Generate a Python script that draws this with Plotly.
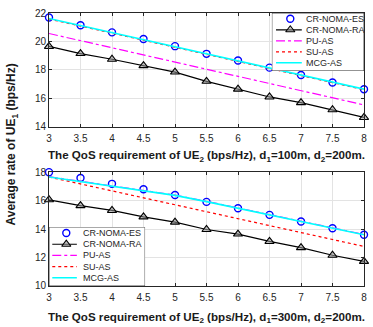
import plotly.graph_objects as go

# ---------------- data ----------------
qos = [3, 3.5, 4, 4.5, 5, 5.5, 6, 6.5, 7, 7.5, 8]
tick_vals = [3, 3.5, 4, 4.5, 5, 5.5, 6, 6.5, 7, 7.5, 8]
tick_text = ["3", "3.5", "4", "4.5", "5", "5.5", "6", "6.5", "7", "7.5", "8"]

# top panel: d1=100m, d2=200m
top_es = [21.68, 21.14, 20.64, 20.17, 19.67, 19.13, 18.66, 18.16, 17.64, 17.12, 16.64]
top_ra = [19.65, 19.15, 18.75, 18.30, 17.85, 17.20, 16.65, 16.10, 15.70, 15.20, 14.66]
top_pu = [20.56, 20.06, 19.56, 19.05, 18.55, 18.05, 17.55, 17.05, 16.55, 16.05, 15.54]
top_su = [21.58, 21.08, 20.58, 20.09, 19.60, 19.10, 18.61, 18.11, 17.61, 17.11, 16.61]
top_mcg = [21.62, 21.12, 20.62, 20.13, 19.64, 19.14, 18.65, 18.15, 17.65, 17.15, 16.65]

# bottom panel: d1=300m, d2=200m
bot_es = [18.00, 17.59, 17.18, 16.80, 16.39, 15.91, 15.46, 15.00, 14.53, 14.06, 13.60]
bot_ra = [16.06, 15.65, 15.31, 14.86, 14.49, 13.97, 13.65, 13.13, 12.70, 12.16, 11.73]
bot_pu = [17.68, 17.37, 17.05, 16.74, 16.39, 15.95, 15.49, 15.02, 14.55, 14.09, 13.62]
bot_su = [17.66, 17.17, 16.68, 16.20, 15.72, 15.23, 14.74, 14.25, 13.76, 13.27, 12.78]
bot_mcg = [17.66, 17.35, 17.03, 16.72, 16.37, 15.93, 15.47, 15.00, 14.53, 14.07, 13.60]

names = ["CR-NOMA-ES", "CR-NOMA-RA", "PU-AS", "SU-AS", "MCG-AS"]
x_title_top = "The QoS requirement of UE<sub>2</sub> (bps/Hz), d<sub>1</sub>=100m, d<sub>2</sub>=200m."
x_title_bot = "The QoS requirement of UE<sub>2</sub> (bps/Hz), d<sub>1</sub>=300m, d<sub>2</sub>=200m."
y_title = "Average rate of UE<sub>1</sub> (bps/Hz)"

# ---------------- styles ----------------
FONT = "Liberation Sans, Arial, sans-serif"
styles = [
    dict(mode="markers", marker=dict(symbol="circle-open", size=7, color="#0000ff",
                                      line=dict(width=1.4, color="#0000ff"))),
    dict(mode="lines+markers", line=dict(color="black", width=1.2),
         marker=dict(symbol="triangle-up", size=8, color="rgba(150,150,150,0.55)",
                     line=dict(width=1.1, color="black"))),
    dict(mode="lines", line=dict(color="#ff00ff", width=1.2, dash="dashdot")),
    dict(mode="lines", line=dict(color="#ff0000", width=1.2, dash="dot")),
    dict(mode="lines", line=dict(color="#00ffff", width=1.6)),
]

fig = go.Figure()

panels = [
    ("x", "y", [top_es, top_ra, top_pu, top_su, top_mcg]),
    ("x2", "y2", [bot_es, bot_ra, bot_pu, bot_su, bot_mcg]),
]
for xa, ya, series in panels:
    for name, vals, st in zip(names, series, styles):
        fig.add_trace(go.Scatter(x=qos, y=vals, name=name, xaxis=xa, yaxis=ya,
                                 showlegend=False, cliponaxis=False, **st))

# ---------------- custom compact legends (aux axes) ----------------
legend_rows = [0.9, 0.71, 0.52, 0.33, 0.14]
legend_specs = [
    # xaxis, yaxis, line start, line end, marker x, text x
    ("x3", "y3", 0.045, 0.325, 0.2, 0.345),
    ("x4", "y4", 0.034, 0.29, 0.18, 0.337),
]
for xa, ya, lx0, lx1, mx, tx in legend_specs:
    fig.add_shape(type="rect", xref=xa, yref=ya, x0=0, x1=1, y0=0, y1=1,
                  line=dict(color="#262626", width=0.8), fillcolor="white", layer="below")
    for name, ry, st in zip(names, legend_rows, styles):
        if "lines" in st["mode"]:
            fig.add_trace(go.Scatter(x=[lx0, lx1], y=[ry, ry], mode="lines", line=st["line"],
                                     xaxis=xa, yaxis=ya, showlegend=False, hoverinfo="skip"))
        if "markers" in st["mode"]:
            fig.add_trace(go.Scatter(x=[mx], y=[ry], mode="markers", marker=st["marker"],
                                     xaxis=xa, yaxis=ya, showlegend=False, hoverinfo="skip"))
        fig.add_annotation(xref=xa, yref=ya, x=tx, y=ry, text=name, showarrow=False,
                           xanchor="left", yanchor="middle",
                           font=dict(family=FONT, size=9, color="#262626"))

# ---------------- axes ----------------
common_x = dict(range=[3, 8], tickmode="array", tickvals=tick_vals, ticktext=tick_text,
                showgrid=True, gridcolor="#e3e3e3", gridwidth=1,
                showline=True, linecolor="#262626", linewidth=1, mirror="ticks",
                ticks="inside", ticklen=3, tickcolor="#262626", ticklabelstandoff=2,
                tickfont=dict(family=FONT, size=10, color="#262626"),
                zeroline=False, fixedrange=True)
common_y = dict(dtick=2, showgrid=True, gridcolor="#e3e3e3", gridwidth=1,
                showline=True, linecolor="#262626", linewidth=1, mirror="ticks",
                ticks="inside", ticklen=3, tickcolor="#262626",
                tickfont=dict(family=FONT, size=10, color="#262626"),
                zeroline=False, fixedrange=True)
xtitle_font = dict(family=FONT, size=11.6, color="#1a1a1a", weight="bold")
ytitle_font = dict(family=FONT, size=12, color="#1a1a1a", weight="bold")

fig.update_layout(
    width=373, height=327,
    margin=dict(l=49, r=6, t=13, b=31),
    paper_bgcolor="white", plot_bgcolor="white",
    showlegend=False,
    xaxis=dict(domain=[0, 1], anchor="y",
               title=dict(text=x_title_top, font=xtitle_font, standoff=8), **common_x),
    yaxis=dict(domain=[0.583, 1], anchor="x", range=[14, 22], **common_y),
    xaxis2=dict(domain=[0, 1], anchor="y2",
                title=dict(text=x_title_bot, font=xtitle_font, standoff=10), **common_x),
    yaxis2=dict(domain=[0, 0.417], anchor="x2", range=[10, 18], **common_y),
    xaxis3=dict(domain=[0.7075, 1.0], anchor="y3", range=[0, 1], visible=False, fixedrange=True),
    yaxis3=dict(domain=[0.788, 1.0], anchor="x3", range=[0, 1], visible=False, fixedrange=True),
    xaxis4=dict(domain=[0.0, 0.305], anchor="y4", range=[0, 1], visible=False, fixedrange=True),
    yaxis4=dict(domain=[0.0, 0.2155], anchor="x4", range=[0, 1], visible=False, fixedrange=True),
)

fig.add_annotation(xref="paper", yref="paper", x=-0.116, y=0.52, text=y_title,
                   textangle=-90, showarrow=False, xanchor="center", yanchor="middle",
                   font=ytitle_font)

fig.write_html("out.html", config={"displayModeBar": False},
               post_script="document.body.style.margin='0px';document.body.style.overflow='hidden';")
